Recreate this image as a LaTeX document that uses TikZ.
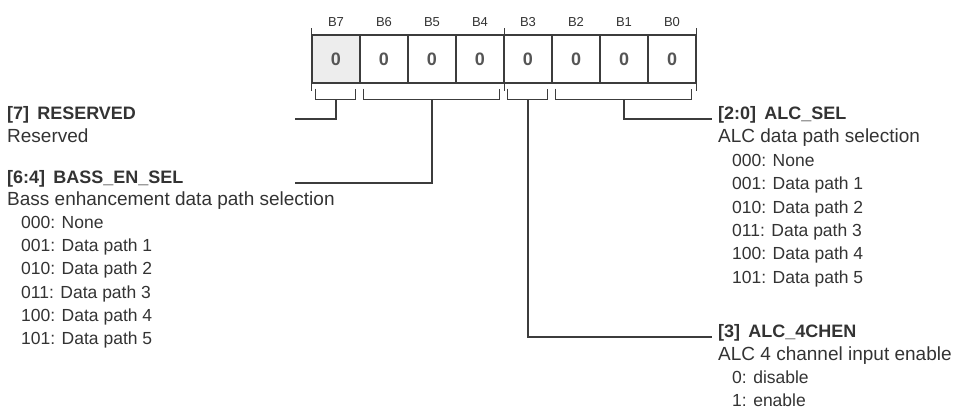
\documentclass[tikz,border=0pt]{standalone}
\usepackage{fontspec}
\setmainfont{Liberation Sans}
\usetikzlibrary{positioning}
\definecolor{inkgray}{HTML}{3C3C3C}
\definecolor{textgray}{HTML}{333333}
\definecolor{zerogray}{HTML}{555555}
\definecolor{cellfill}{HTML}{EDEDED}

\begin{document}
\begin{tikzpicture}[x=1pt, y=-1pt,
    cell/.style={draw=inkgray, line width=1.3pt, minimum width=48pt, minimum height=48pt, inner sep=0pt, text=zerogray, font=\fontsize{18}{18}\selectfont\bfseries},
    bitlabel/.style={inner sep=0pt, text=textgray, font=\fontsize{13}{13}\selectfont},
    wire/.style={draw=inkgray, line width=1.4pt},
    title/.style={anchor=base west, inner sep=0pt, text=textgray, font=\fontsize{18}{20}\selectfont\bfseries},
    desc/.style={anchor=base west, inner sep=0pt, text=textgray, font=\fontsize{19}{21}\selectfont},
    item/.style={anchor=base west, inner sep=0pt, text=textgray, font=\fontsize{17.5}{20}\selectfont}
]
\useasboundingbox (0,0) rectangle (959,416);
% register cells and bit names
\foreach \b [count=\k from 0] in {7,...,0}{
    \ifnum\b=7 \def\cellcol{cellfill}\else\def\cellcol{white}\fi
    \node[cell, fill=\cellcol] (bit\b) at ({336+48*\k},59) {\raisebox{-4pt}{0}};
    \node[bitlabel, above=8pt of bit\b] (lab\b) {B\b};
}
% nibble ticks
\draw[wire] ([yshift=6pt]bit7.north west) -- ([yshift=-7pt]bit7.south west);
\draw[wire] ([yshift=6pt]bit4.north east) -- ([yshift=-7pt]bit4.south east);
\draw[wire] ([yshift=6pt]bit0.north east) -- ([yshift=-7pt]bit0.south east);
% field brackets
\draw[wire] ([xshift=4pt,yshift=-5pt]bit7.south west) -- ++(0,11) -| ([xshift=-5pt,yshift=-5pt]bit7.south east);
\draw[wire] ([xshift=4pt,yshift=-5pt]bit6.south west) -- ++(0,11) -| ([xshift=-5pt,yshift=-5pt]bit4.south east);
\draw[wire] ([xshift=4pt,yshift=-5pt]bit3.south west) -- ++(0,11) -| ([xshift=-5pt,yshift=-5pt]bit3.south east);
\draw[wire] ([xshift=4pt,yshift=-5pt]bit2.south west) -- ++(0,11) -| ([xshift=-5pt,yshift=-5pt]bit0.south east);
\coordinate (k7) at ([yshift=-16pt]bit7.south);
\coordinate (k5) at ([yshift=-16pt]bit5.south);
\coordinate (k3) at ([yshift=-16pt]bit3.south);
\coordinate (k1) at ([yshift=-16pt]bit1.south);

% left fields
\node[title] (rsvd) at (7,119) {[7]\hspace{0.45em}RESERVED};
\node[desc] (rsvddesc) at ([yshift=-23pt]rsvd.base west) {Reserved};
\node[title] (bass) at (7,183) {[6:4]\hspace{0.45em}BASS\_EN\_SEL};
\node[desc] (bassdesc) at ([yshift=-22pt]bass.base west) {Bass enhancement data path selection};
\foreach \code/\txt [count=\k from 0] in {000/None, 001/Data path 1, 010/Data path 2, 011/Data path 3, 100/Data path 4, 101/Data path 5}
    \node[item] (bass\code) at ([xshift=14pt, yshift={-23.5pt-23.2pt*\k}]bassdesc.base west) {\code: \txt};

% right fields
\node[title] (alcsel) at (718,119) {[2:0]\hspace{0.45em}ALC\_SEL};
\node[desc] (alcseldesc) at ([yshift=-23pt]alcsel.base west) {ALC data path selection};
\foreach \code/\txt [count=\k from 0] in {000/None, 001/Data path 1, 010/Data path 2, 011/Data path 3, 100/Data path 4, 101/Data path 5}
    \node[item] (alc\code) at ([xshift=14pt, yshift={-24.5pt-23.3pt*\k}]alcseldesc.base west) {\code: \txt};
\node[title] (alcch) at (718,337) {[3]\hspace{0.45em}ALC\_4CHEN};
\node[desc] (alcchdesc) at ([yshift=-23pt]alcch.base west) {ALC 4 channel input enable};
\node[item] (alcch0) at ([xshift=14pt, yshift=-23.5pt]alcchdesc.base west) {0: disable};
\node[item] (alcch1) at ([yshift=-23.2pt]alcch0.base west) {1: enable};

% connectors
\coordinate (rsvdend) at (295,119);
\coordinate (bassend) at (295,183);
\draw[wire] (k7) |- (rsvdend);
\draw[wire] (k5) |- (bassend);
\draw[wire] (k1) |- ([xshift=-6pt]alcsel.base west);
\draw[wire] (k3) |- ([xshift=-6pt]alcch.base west);
\end{tikzpicture}
\end{document}
